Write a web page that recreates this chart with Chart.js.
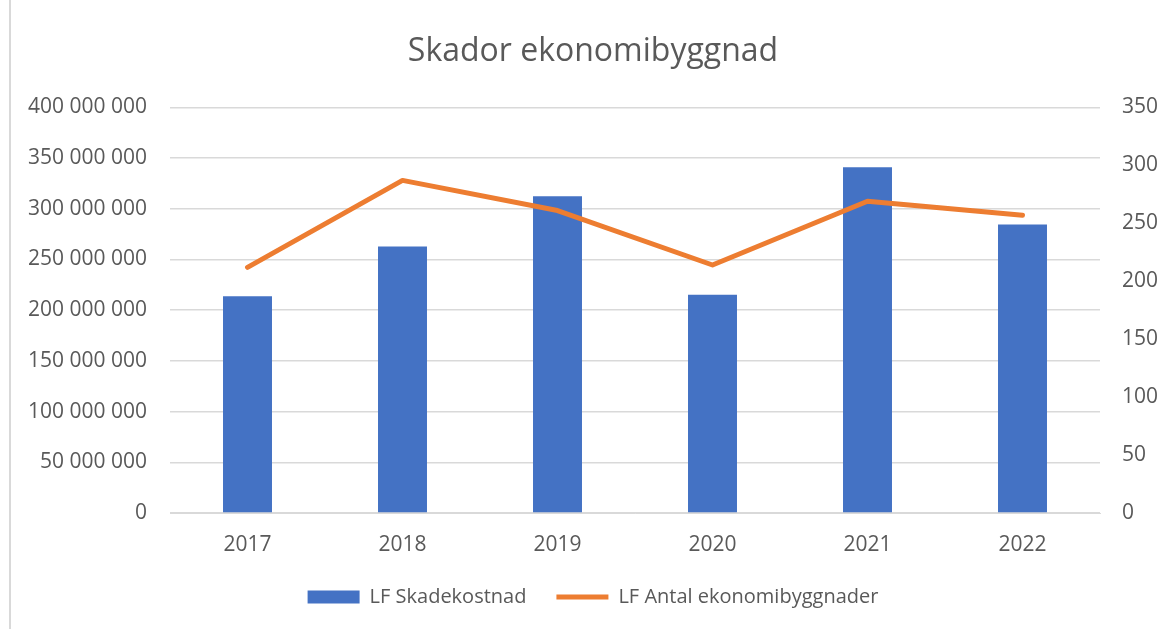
<!DOCTYPE html>
<html>
<head>
<meta charset="utf-8">
<script src="https://cdn.jsdelivr.net/npm/chart.js@4"></script>
<style>
  html, body { margin: 0; padding: 0; background: #fff; }
  #wrap { position: relative; width: 1168px; height: 629px; }
  #edge { position: absolute; left: 9px; top: 0; bottom: 0; border-left: 2px solid #d9d9d9; }
  canvas { position: absolute; left: 0; top: 0; }
</style>
</head>
<body>
<div id="wrap">
  <div id="edge"></div>
  <canvas id="chart" width="1168" height="629"></canvas>
</div>
<script>
// Skador ekonomibyggnad
const years = ['2017', '2018', '2019', '2020', '2021', '2022'];
const skadekostnad = [213700000, 262900000, 312400000, 215300000, 341000000, 284500000];
const antalByggnader = [212, 287, 261, 214, 269, 257];
const leftTicks = [0, 50000000, 100000000, 150000000, 200000000, 250000000, 300000000, 350000000, 400000000];
const rightTicks = [0, 50, 100, 150, 200, 250, 300, 350];

const GREY = '#595959';
const FONT = '"Open Sans", Lato, sans-serif';

// 400000000 -> "400 000 000"
function spaced(v) {
  return String(Math.round(v)).replace(/\B(?=(\d{3})+(?!\d))/g, ' ');
}

const ctx = document.getElementById('chart').getContext('2d');
new Chart(ctx, {
  data: {
    labels: years,
    datasets: [
      {
        type: 'bar',
        label: 'LF Skadekostnad',
        data: skadekostnad,
        backgroundColor: '#4472C4',
        borderWidth: 0,
        yAxisID: 'y',
        barPercentage: 0.316,
        categoryPercentage: 1,
        order: 2
      },
      {
        type: 'line',
        label: 'LF Antal ekonomibyggnader',
        data: antalByggnader,
        borderColor: '#ED7D31',
        backgroundColor: '#ED7D31',
        borderWidth: 5,
        borderCapStyle: 'round',
        borderJoinStyle: 'round',
        pointRadius: 0,
        tension: 0,
        yAxisID: 'y2',
        order: 1
      }
    ]
  },
  options: {
    responsive: false,
    animation: false,
    layout: { padding: { left: 18, right: 0, top: 0, bottom: 12 } },
    plugins: {
      tooltip: { enabled: false },
      title: {
        display: true,
        text: 'Skador ekonomibyggnad',
        color: GREY,
        font: { family: FONT, size: 32, weight: 'normal' },
        padding: { top: 33, bottom: 36 }
      },
      legend: {
        position: 'bottom',
        labels: {
          color: GREY,
          font: { family: FONT, size: 20 },
          usePointStyle: true,
          pointStyleWidth: 52,
          boxHeight: 13,
          padding: 30,
          sort: (a, b) => a.datasetIndex - b.datasetIndex,
          generateLabels(chart) {
            const items = Chart.defaults.plugins.legend.labels.generateLabels(chart);
            items.forEach(it => {
              if (it.datasetIndex === 0) {
                it.pointStyle = 'rect';
                it.lineWidth = 0;
              } else {
                it.pointStyle = 'line';
                it.lineWidth = 5;
                it.strokeStyle = '#ED7D31';
              }
            });
            return items;
          }
        }
      }
    },
    scales: {
      x: {
        grid: { display: false, drawTicks: false },
        border: { display: true, color: '#d9d9d9', width: 1 },
        afterFit(scale) { scale.height = 44; },
        ticks: { color: GREY, font: { family: FONT, size: 21 }, padding: 19 }
      },
      y: {
        position: 'left',
        min: 0,
        max: 400000000,
        afterBuildTicks(scale) { scale.ticks = leftTicks.map(v => ({ value: v })); },
        afterFit(scale) { scale.width = 152; },
        grid: { color: '#d9d9d9', lineWidth: 1.5, drawTicks: false },
        border: { display: false },
        ticks: {
          color: GREY,
          font: { family: FONT, size: 21 },
          padding: 23,
          callback: v => spaced(v)
        }
      },
      y2: {
        position: 'right',
        min: 0,
        max: 350,
        afterBuildTicks(scale) { scale.ticks = rightTicks.map(v => ({ value: v })); },
        afterFit(scale) { scale.width = 68; },
        grid: { drawOnChartArea: false, drawTicks: false },
        border: { display: false },
        ticks: {
          color: GREY,
          font: { family: FONT, size: 21 },
          padding: 22
        }
      }
    }
  }
});
</script>
</body>
</html>
